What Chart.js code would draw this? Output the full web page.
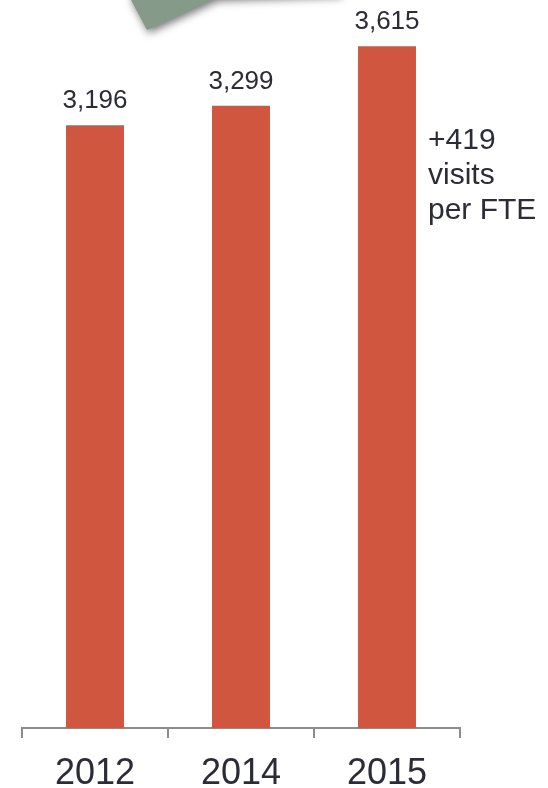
<!DOCTYPE html>
<html>
<head>
<meta charset="utf-8">
<script src="https://cdn.jsdelivr.net/npm/chart.js@4"></script>
<style>
    html, body { margin: 0; padding: 0; background: #fff; }
    .wrap { width: 548px; height: 788px; position: relative; }
</style>
</head>
<body>
<div class="wrap"><canvas id="myChart" width="548" height="788"></canvas></div>
<script>
const years = ['2012', '2014', '2015'];
const visits = [3196, 3299, 3615];
const noteLines = ['+419', 'visits', 'per FTE'];

const textColor = '#2b2c35';
const barColor = '#d0563f';
const fontName = '"Liberation Sans", Arial, sans-serif';

// trozo de la forma gris verde arriba a la izquierda
const shapePlugin = {
    id: 'shape',
    beforeDraw(chart) {
        const ctx = chart.ctx;
        ctx.save();
        ctx.shadowColor = 'rgba(0,0,0,0.55)';
        ctx.shadowBlur = 8;
        ctx.shadowOffsetX = 2;
        ctx.shadowOffsetY = 3;
        ctx.fillStyle = '#869a89';
        ctx.beginPath();
        ctx.moveTo(131, -20);
        ctx.lineTo(131, 0);
        ctx.lineTo(147, 30);
        ctx.lineTo(216, -2);
        ctx.lineTo(340, -6);
        ctx.lineTo(340, -20);
        ctx.closePath();
        ctx.fill();
        ctx.restore();
    }
};

// numeros encima de las barras y la nota de la derecha
const labelsPlugin = {
    id: 'labels',
    afterDatasetsDraw(chart) {
        const ctx = chart.ctx;
        const meta = chart.getDatasetMeta(0);
        ctx.save();
        ctx.fillStyle = textColor;
        ctx.font = '26px ' + fontName;
        ctx.textAlign = 'center';
        ctx.textBaseline = 'alphabetic';
        meta.data.forEach((bar, i) => {
            ctx.fillText(visits[i].toLocaleString('en-US'), bar.x, bar.y - 17);
        });

        ctx.font = '30px ' + fontName;
        ctx.textAlign = 'left';
        noteLines.forEach((line, i) => {
            ctx.fillText(line, 428, 149 + i * 35);
        });
        ctx.restore();
    }
};

const cv = document.querySelector('#myChart').getContext('2d');
const myChart = new Chart(cv, {
    type: 'bar',
    data: {
        labels: years,
        datasets: [{
            data: visits,
            backgroundColor: barColor,
            borderWidth: 0,
            categoryPercentage: 1,
            barPercentage: 0.397
        }]
    },
    options: {
        responsive: false,
        animation: false,
        layout: {
            padding: { left: 22, right: 88, top: 0, bottom: -22 }
        },
        plugins: {
            legend: { display: false },
            tooltip: { enabled: false }
        },
        scales: {
            x: {
                border: { display: true, color: '#8c8c8c', width: 2 },
                grid: {
                    offset: true,
                    drawOnChartArea: false,
                    drawTicks: true,
                    tickLength: 10,
                    color: '#8c8c8c',
                    lineWidth: 2
                },
                ticks: {
                    color: textColor,
                    padding: 18,
                    font: { family: fontName, size: 36, lineHeight: 1 }
                }
            },
            y: {
                display: false,
                min: 0,
                max: 3860
            }
        }
    },
    plugins: [shapePlugin, labelsPlugin]
});
</script>
</body>
</html>
